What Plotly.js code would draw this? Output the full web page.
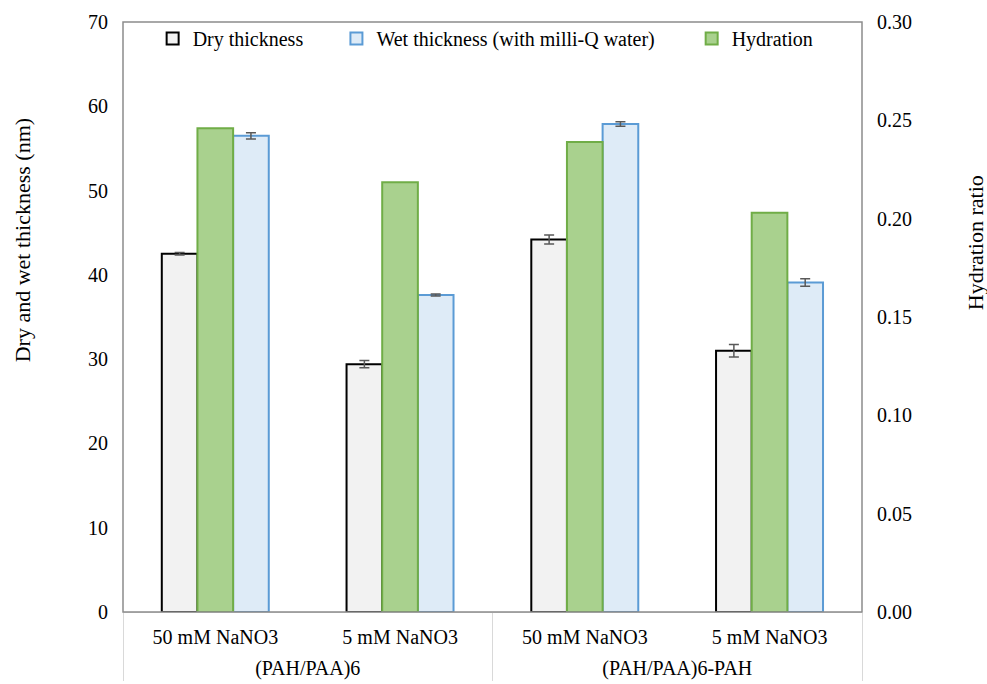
<!DOCTYPE html>
<html>
<head>
<meta charset="utf-8">
<script src="https://cdn.plot.ly/plotly-3.0.1.min.js"></script>
<style>
  html, body { margin: 0; padding: 0; background: #ffffff; }
  #chart { width: 987px; height: 684px; }
</style>
</head>
<body>
<div id="chart"></div>
<script>
// Film series (outer category) and salt condition (inner category)
const films = ["(PAH/PAA)6", "(PAH/PAA)6", "(PAH/PAA)6-PAH", "(PAH/PAA)6-PAH"];
const salts = ["50 mM NaNO3", "5 mM NaNO3", "50 mM NaNO3", "5 mM NaNO3"];

// Thickness in nm with standard deviations
const dryThickness = [42.5, 29.4, 44.2, 31.0];
const dryError = [0.15, 0.43, 0.53, 0.75];
const wetThickness = [56.5, 37.6, 57.9, 39.1];
const wetError = [0.37, 0.12, 0.26, 0.45];

// Hydration ratio (right axis)
const hydration = [0.246, 0.2185, 0.239, 0.203];

const leftTicks = [0, 10, 20, 30, 40, 50, 60, 70];
const rightTicks = [0, 0.05, 0.10, 0.15, 0.20, 0.25, 0.30];

const serif = "Liberation Serif, Times New Roman, serif";

// Category labels are drawn at 20px inside a 14px tick font; a blank spacer
// line under each salt label sets the gap before the film row.
const big = s => '<span style="font-size:20px">' + s + '</span>';
const spacer = '<br><span style="font-size:32px">\u00a0</span>';
const x = [films.map(big), salts.map(s => big(s) + spacer)];

const barW = 0.193;
const errColor = "#595959";

const traces = [
  {
    type: "bar", name: "Dry thickness", x: x, y: dryThickness,
    width: barW, offset: -0.29,
    marker: { color: "#f2f2f2", line: { color: "#000000", width: 2 } },
    error_y: { type: "data", array: dryError, visible: true, color: errColor, thickness: 1.5, width: 5 },
    yaxis: "y", legend: "legend"
  },
  {
    type: "bar", name: "Wet thickness (with milli-Q water)", x: x, y: wetThickness,
    width: barW, offset: 0.096,
    marker: { color: "#deebf7", line: { color: "#5b9bd5", width: 2 } },
    error_y: { type: "data", array: wetError, visible: true, color: errColor, thickness: 1.5, width: 5 },
    yaxis: "y", legend: "legend2"
  },
  {
    type: "bar", name: "Hydration", x: x, y: hydration,
    width: barW, offset: -0.097,
    marker: { color: "#a9d18e", line: { color: "#70ad47", width: 2 } },
    yaxis: "y2", legend: "legend3"
  }
];

const legendBase = {
  orientation: "h", y: 1.005, yanchor: "top", xanchor: "left",
  font: { family: serif, size: 20, color: "#000000" },
  bgcolor: "rgba(0,0,0,0)", itemwidth: 30
};

const layout = {
  width: 987, height: 684,
  margin: { l: 123, r: 125, t: 22, b: 72 },
  paper_bgcolor: "#ffffff", plot_bgcolor: "#ffffff",
  font: { family: serif, size: 20, color: "#000000" },
  barmode: "overlay",
  showlegend: true,
  legend: Object.assign({}, legendBase, { x: 0.0401 }),
  legend2: Object.assign({}, legendBase, { x: 0.2888 }),
  legend3: Object.assign({}, legendBase, { x: 0.7695 }),
  xaxis: {
    type: "multicategory",
    showline: true, linecolor: "#d9d9d9", linewidth: 1,
    showdividers: true, dividercolor: "#d9d9d9", dividerwidth: 1,
    ticks: "", showgrid: false, ticklabelstandoff: 14,
    tickfont: { family: serif, size: 14, color: "#000000" }
  },
  yaxis: {
    range: [0, 70], tickvals: leftTicks, ticks: "", showgrid: false, zeroline: false,
    showline: false, ticklabelstandoff: 14,
    tickfont: { family: serif, size: 20, color: "#000000" }
  },
  yaxis2: {
    range: [0, 0.30], tickvals: rightTicks, tickformat: ".2f", overlaying: "y", side: "right",
    ticks: "", showgrid: false, zeroline: false, showline: false, ticklabelstandoff: 14,
    tickfont: { family: serif, size: 20, color: "#000000" }
  },
  annotations: [
    { text: "Dry and wet thickness (nm)", xref: "paper", yref: "paper",
      x: -101 / 739, y: 0.63, xanchor: "center", yanchor: "middle", textangle: -90,
      showarrow: false, font: { family: serif, size: 22, color: "#000000" } },
    { text: "Hydration ratio", xref: "paper", yref: "paper",
      x: 1 + 113 / 739, y: 0.625, xanchor: "center", yanchor: "middle", textangle: -90,
      showarrow: false, font: { family: serif, size: 22, color: "#000000" } }
  ],
  shapes: [
    { type: "rect", xref: "paper", yref: "paper", x0: 0, x1: 1, y0: 0, y1: 1,
      line: { color: "#8c8c8c", width: 1.5 }, layer: "above" }
  ]
};

Plotly.newPlot("chart", traces, layout, { displayModeBar: false, staticPlot: true });
</script>
</body>
</html>
